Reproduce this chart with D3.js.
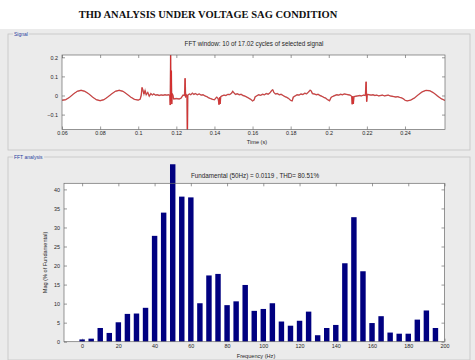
<!DOCTYPE html>
<html>
<head>
<meta charset="utf-8">
<script src="https://cdn.jsdelivr.net/npm/d3@7/dist/d3.min.js"></script>
<style>
  html, body { margin: 0; padding: 0; background: #ffffff; }
  svg { display: block; }
  text { font-family: "Liberation Sans", Arial, sans-serif; }
</style>
</head>
<body>
<svg id="chart" width="475" height="360"></svg>
<script>
// ---- Signal trace: [time (s), amplitude] ----
const signalPoints = [
  [0.0600,-0.025],[0.0620,-0.022],[0.0640,-0.009],[0.0660,0.008],[0.0680,0.022],[0.0700,0.027],
  [0.0720,0.022],[0.0740,0.009],[0.0760,-0.008],[0.0780,-0.022],[0.0800,-0.027],[0.0820,-0.022],
  [0.0840,-0.008],[0.0860,0.008],[0.0880,0.022],[0.0900,0.027],[0.0920,0.022],[0.0940,0.008],
  [0.0960,-0.008],[0.0980,-0.020],[0.1000,-0.024],[0.1010,-0.020],[0.1016,0.002],[0.1020,0.042],
  [0.1024,0.030],[0.1030,0.008],[0.1036,0.026],[0.1042,0.004],[0.1050,0.016],[0.1058,-0.004],
  [0.1066,0.010],[0.1074,0.003],[0.1082,0.008],[0.1090,0.002],[0.1100,0.004],[0.1110,0.000],
  [0.1120,0.003],[0.1130,0.001],[0.1140,0.004],[0.1150,0.002],[0.1160,0.004],[0.1166,0.000],
  [0.1168,-0.050],[0.1170,0.230],[0.1172,-0.030],[0.1174,0.130],[0.1176,-0.045],[0.1178,0.010],
  [0.1182,0.002],[0.1186,-0.018],[0.1200,-0.016],[0.1215,-0.018],[0.1225,-0.014],[0.1235,0.002],
  [0.1243,0.000],[0.1246,0.090],[0.1249,-0.010],[0.1253,0.004],[0.1256,0.000],[0.1258,-0.260],
  [0.1260,0.002],[0.1268,0.008],[0.1276,0.004],[0.1284,0.012],[0.1292,0.006],[0.1300,0.010],
  [0.1310,0.004],[0.1320,0.008],[0.1330,0.002],[0.1340,0.004],[0.1350,-0.002],[0.1360,-0.006],
  [0.1370,-0.012],[0.1380,-0.016],[0.1390,-0.020],[0.1400,-0.022],[0.1412,-0.008],[0.1420,-0.018],
  [0.1424,-0.048],[0.1427,-0.010],[0.1430,-0.044],[0.1433,-0.006],[0.1440,-0.002],[0.1450,0.002],
  [0.1460,0.000],[0.1470,0.006],[0.1480,0.005],[0.1490,0.012],[0.1496,0.022],[0.1502,0.014],
  [0.1510,0.006],[0.1520,0.009],[0.1530,0.004],[0.1540,0.006],[0.1550,0.000],[0.1560,-0.003],
  [0.1570,-0.008],[0.1580,-0.014],[0.1590,-0.020],[0.1600,-0.028],[0.1608,-0.024],[0.1614,-0.006],
  [0.1622,-0.002],[0.1632,0.004],[0.1642,0.001],[0.1652,0.006],[0.1662,0.004],[0.1672,0.010],
  [0.1682,0.007],[0.1692,0.014],[0.1700,0.026],[0.1706,0.030],[0.1712,0.016],[0.1720,0.008],
  [0.1730,0.010],[0.1740,0.004],[0.1750,0.006],[0.1760,0.000],[0.1770,-0.006],[0.1780,-0.010],
  [0.1790,-0.016],[0.1800,-0.026],[0.1808,-0.028],[0.1814,-0.008],[0.1824,-0.002],[0.1834,0.004],
  [0.1844,0.002],[0.1854,0.008],[0.1864,0.005],[0.1874,0.012],[0.1884,0.009],[0.1894,0.018],
  [0.1902,0.028],[0.1908,0.024],[0.1914,0.010],[0.1924,0.008],[0.1934,0.004],[0.1944,0.006],
  [0.1954,0.000],[0.1964,-0.004],[0.1974,-0.010],[0.1984,-0.014],[0.1994,-0.022],[0.2004,-0.028],
  [0.2012,-0.010],[0.2022,-0.004],[0.2032,0.000],[0.2042,0.004],[0.2052,0.002],[0.2062,0.006],
  [0.2072,0.004],[0.2082,0.008],[0.2092,0.006],[0.2102,0.004],[0.2112,0.002],[0.2120,-0.004],
  [0.2123,-0.046],[0.2126,-0.004],[0.2129,-0.044],[0.2132,-0.006],[0.2142,-0.004],[0.2152,-0.002],
  [0.2162,0.000],[0.2172,-0.002],[0.2182,0.002],[0.2192,0.000],[0.2196,0.072],[0.2199,-0.032],
  [0.2202,0.006],[0.2212,0.004],[0.2222,0.002],[0.2232,0.004],[0.2242,0.000],[0.2252,0.002],
  [0.2262,-0.002],[0.2272,0.000],[0.2282,0.002],[0.2292,-0.002],[0.2302,0.000],[0.2312,0.002],
  [0.2322,-0.002],[0.2332,-0.004],[0.2342,-0.006],[0.2352,-0.008],[0.2362,-0.006],[0.2372,-0.010],
  [0.2382,-0.012],[0.2392,-0.018],[0.2402,-0.026],[0.2412,-0.028],[0.2430,-0.024],[0.2450,-0.013],
  [0.2470,0.004],[0.2490,0.019],[0.2510,0.027],[0.2530,0.025],[0.2550,0.014],[0.2570,-0.002],
  [0.2590,-0.017],[0.2610,-0.026]
];
const timeTicks = [0.06, 0.08, 0.1, 0.12, 0.14, 0.16, 0.18, 0.2, 0.22, 0.24];
const signalTicks = [-0.1, 0, 0.1, 0.2];

// ---- Harmonic spectrum: bin frequency (Hz) and magnitude (% of fundamental) ----
const frequencies = [0,5,10,15,20,25,30,35,40,45,50,55,60,65,70,75,80,85,90,95,
                     100,105,110,115,120,125,130,135,140,145,150,155,160,165,170,175,180,185,190,195];
const magnitudes  = [0.6,0.8,3.6,2.3,5.1,7.3,7.4,8.9,27.8,33.9,46.6,38.1,37.9,10.1,17.4,17.8,9.6,10.6,14.9,8.1,
                     8.6,10.1,5.3,4.2,5.5,7.9,1.7,3.6,4.4,20.6,32.7,18.5,4.9,6.7,2.4,2.1,2.1,5.8,8.2,3.6];
const freqTicks = [0,20,40,60,80,100,120,140,160,180,200];
const magTicks  = [0,5,10,15,20,25,30,35,40];

const svg = d3.select("#chart");
const panelFill = "#ebebeb";
const inkColor = "#262626";

// figure background below the heading
svg.append("rect").attr("x", 0).attr("y", 29).attr("width", 475).attr("height", 331).attr("fill", panelFill);

// heading
svg.append("text")
  .attr("x", 208).attr("y", 18)
  .attr("text-anchor", "middle")
  .style("font-family", "'Liberation Serif', 'Times New Roman', serif")
  .style("font-weight", "bold")
  .style("font-size", "10.5px")
  .attr("fill", "#111")
  .text("THD ANALYSIS UNDER VOLTAGE SAG CONDITION");

// group boxes
function groupBox(x, y, w, h, label) {
  const g = svg.append("g");
  g.append("rect").attr("x", x).attr("y", y).attr("width", w).attr("height", h)
    .attr("fill", "none").attr("stroke", "#c4c4c4").attr("stroke-width", 0.8);
  const lbl = g.append("text").attr("x", x + 6).attr("y", y + 1.8)
    .style("font-size", "5px").attr("fill", "#2840a0").text(label);
  const bb = lbl.node().getBBox();
  g.insert("rect", "text").attr("x", bb.x - 1).attr("y", y - 1).attr("width", bb.width + 2).attr("height", 2)
    .attr("fill", panelFill);
}
groupBox(8, 34, 462, 116, "Signal");
groupBox(8, 157, 462, 203, "FFT analysis");

// MATLAB-style boxed axes with inward ticks on all four sides
function boxedAxes(x, y, xTicks, yTicks, xFmt, yFmt, padX) {
  const [l, r] = x.range();
  const [b, t] = y.range();
  const g = svg.append("g");
  g.append("rect").attr("x", l).attr("y", t).attr("width", r - l).attr("height", b - t).attr("fill", "#ffffff");
  const tl = 3;
  const axisBottom = d3.axisBottom(x).tickValues(xTicks).tickSize(-tl).tickPadding(padX).tickFormat(xFmt);
  const axisTop = d3.axisTop(x).tickValues(xTicks).tickSize(-tl).tickFormat("");
  const axisLeft = d3.axisLeft(y).tickValues(yTicks).tickSize(-tl).tickPadding(4).tickFormat(yFmt);
  const axisRight = d3.axisRight(y).tickValues(yTicks).tickSize(-tl).tickFormat("");
  [[axisBottom, `translate(0,${b})`], [axisTop, `translate(0,${t})`],
   [axisLeft, `translate(${l},0)`], [axisRight, `translate(${r},0)`]].forEach(([ax, tr]) => {
    const a = g.append("g").attr("transform", tr).call(ax);
    a.select(".domain").remove();
    a.selectAll(".tick line").attr("stroke", "#555").attr("stroke-width", 0.6);
    a.selectAll(".tick text").style("font-size", "5.4px").attr("fill", inkColor);
  });
  return g;
}
function frame(x, y) {
  const [l, r] = x.range();
  const [b, t] = y.range();
  svg.append("rect").attr("x", l).attr("y", t).attr("width", r - l).attr("height", b - t)
    .attr("fill", "none").attr("stroke", "#6a6a6a").attr("stroke-width", 0.7);
}

// ---- signal plot ----
const xT = d3.scaleLinear().domain([0.06, 0.261]).range([62, 445]);
const yS = d3.scaleLinear().domain([-0.178, 0.212]).range([129.5, 55]);
boxedAxes(xT, yS, timeTicks, signalTicks, d => d3.format("")(+d.toFixed(2)), d => d3.format("")(+d.toFixed(1)), 1.5);

svg.append("clipPath").attr("id", "sigClip").append("rect")
  .attr("x", 62).attr("y", 55).attr("width", 445 - 62).attr("height", 129.5 - 55);
const sigLine = d3.line().x(d => xT(d[0])).y(d => yS(d[1]));
svg.append("path").datum(signalPoints).attr("clip-path", "url(#sigClip)")
  .attr("d", sigLine).attr("fill", "none").attr("stroke", "#8a1a1a").attr("stroke-width", 1.4).attr("opacity", 0.55);
svg.append("path").datum(signalPoints).attr("clip-path", "url(#sigClip)")
  .attr("d", sigLine).attr("fill", "none").attr("stroke", "#d42a2a").attr("stroke-width", 0.8);
frame(xT, yS);

svg.append("text").attr("x", 254).attr("y", 45.5).attr("text-anchor", "middle")
  .style("font-size", "6.3px").attr("fill", inkColor)
  .text("FFT window: 10 of 17.02 cycles of selected signal");
svg.append("text").attr("x", 257).attr("y", 143.5).attr("text-anchor", "middle")
  .style("font-size", "5.6px").attr("fill", inkColor).text("Time (s)");

// ---- spectrum plot ----
const xF = d3.scaleLinear().domain([-10, 200]).range([64, 444.5]);
const yM = d3.scaleLinear().domain([0, 41.6]).range([341.7, 183.3]);
boxedAxes(xF, yM, freqTicks, magTicks, d3.format("d"), d3.format("d"), 2.5);

const barW = xF(3) - xF(0);
svg.append("g").selectAll("rect")
  .data(frequencies.map((f, i) => ({ f, m: magnitudes[i] })))
  .join("rect")
  .attr("x", d => xF(d.f) - barW / 2)
  .attr("y", d => yM(d.m))
  .attr("width", barW)
  .attr("height", d => yM(0) - yM(d.m))
  .attr("fill", "#000080");
frame(xF, yM);

svg.append("text").attr("x", 255).attr("y", 177.5).attr("text-anchor", "middle")
  .style("font-size", "6.3px").attr("fill", inkColor)
  .text("Fundamental (50Hz) = 0.0119 , THD= 80.51%");
svg.append("text").attr("x", 256).attr("y", 358).attr("text-anchor", "middle")
  .style("font-size", "5.6px").attr("fill", inkColor).text("Frequency (Hz)");
svg.append("text").attr("transform", "translate(47,262.5) rotate(-90)").attr("text-anchor", "middle")
  .style("font-size", "5.6px").attr("fill", inkColor).text("Mag (% of Fundamental)");
</script>
</body>
</html>
